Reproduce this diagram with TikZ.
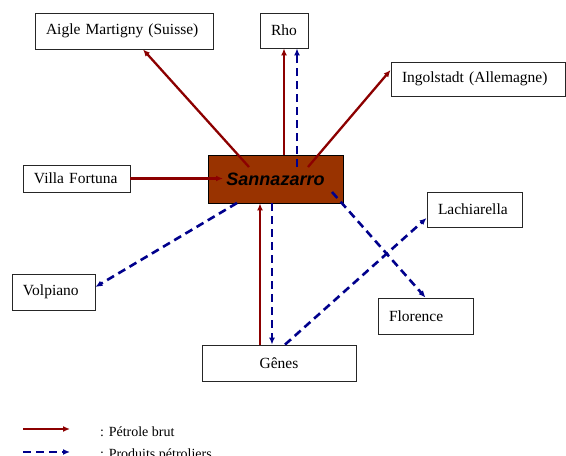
\documentclass[tikz,border=0pt]{standalone}
\usepackage{fontspec}
\setmainfont{Liberation Serif}
\newfontfamily\arialfont{Liberation Sans}
\usetikzlibrary{arrows.meta,calc}
\definecolor{crude}{RGB}{140,0,0}
\definecolor{prod}{RGB}{0,0,140}
\definecolor{refbox}{RGB}{153,51,0}
\tikzset{
  place/.style={draw=black!85, line width=0.8pt, fill=white, inner xsep=11pt, inner ysep=0pt,
    align=left, font=\fontsize{15.5}{18}\selectfont},
  crudeline/.style={draw=crude, line width=2.3pt, -{Latex[length=7pt,width=6pt]}},
  prodline/.style={draw=prod, line width=2.6pt, dash pattern=on 8pt off 5pt, -{Latex[length=7pt,width=6pt]}},
}
\begin{document}
\begin{tikzpicture}[x=1pt,y=1pt]
\useasboundingbox (0,0) rectangle (566,-456);
\clip (0,0) rectangle (566,-456);
% places
\node[place, text width=156pt, minimum height=36pt] (aigle) at (124,-31) {Aigle Martigny (Suisse)};
\node[place, align=center, inner xsep=0pt, minimum width=48pt, minimum height=35pt] (rho) at (284,-30.5) {Rho};
\node[place, text width=152pt, minimum height=34pt] (ing) at (478,-79) {Ingolstadt (Allemagne)};
\node[place, text width=85pt, minimum height=27pt] (villa) at (76.5,-178.5) {Villa Fortuna};
\node[place, text width=61pt, minimum height=36pt] (volp) at (53.5,-292) {Volpiano};
\node[place, text width=73pt, minimum height=35pt] (lach) at (474.5,-209.5) {Lachiarella};
\node[place, text width=73pt, minimum height=36pt] (flor) at (425.5,-316) {Florence};
\node[place, align=center, inner xsep=0pt, minimum width=154pt, minimum height=36pt] (genes) at (279,-363) {Gênes};
\node[draw=black, line width=0.8pt, fill=refbox, minimum width=135pt, minimum height=48pt, inner sep=0pt,
  font=\arialfont\bfseries\itshape\fontsize{18}{20}\selectfont] (sann) at (275.5,-179) {Sannazarro};
% coordinates inside the refinery box
\coordinate (sA) at (249,-167);
\coordinate (sR) at (297,-167);
\coordinate (sI) at (308,-167);
\coordinate (sV) at (223,-178.5);
\coordinate (sP) at (237,-203);
\coordinate (sF) at (332,-192);
% crude oil
\draw[crudeline] (sA) -- ([xshift=19pt]aigle.south);
\draw[crudeline] ([xshift=8.5pt]sann.north) -- (rho.south);
\draw[crudeline] (sI) -- ([yshift=9pt]ing.west);
\draw[crudeline] (villa.east) -- (sV);
\draw[crudeline] ([xshift=-19pt]genes.north) -- ([xshift=-15.5pt]sann.south);
% products
\draw[prodline] (sR) -- (sR |- rho.south);
\draw[prodline] (sP) -- ([yshift=5pt]volp.east);
\draw[prodline] ([xshift=-3.5pt]sann.south) -- ([xshift=-7pt]genes.north);
\draw[prodline] ([xshift=6pt]genes.north) -- ([yshift=-8.5pt]lach.west);
\draw[prodline] (sF) -- (flor.north);
% legend
\coordinate (l1a) at (23,-429);
\coordinate (l1b) at (70,-429);
\coordinate (l2a) at (23,-452);
\coordinate (l2b) at (70,-452);
\draw[crudeline] (l1a) -- (l1b);
\draw[prodline] (l2a) -- (l2b);
\node[anchor=base west, inner sep=0pt, font=\fontsize{14}{16}\selectfont] (t1) at (100,-436) {: Pétrole brut};
\node[anchor=base west, inner sep=0pt, font=\fontsize{14}{16}\selectfont] (t2) at (100,-458) {: Produits pétroliers};
\end{tikzpicture}
\end{document}
